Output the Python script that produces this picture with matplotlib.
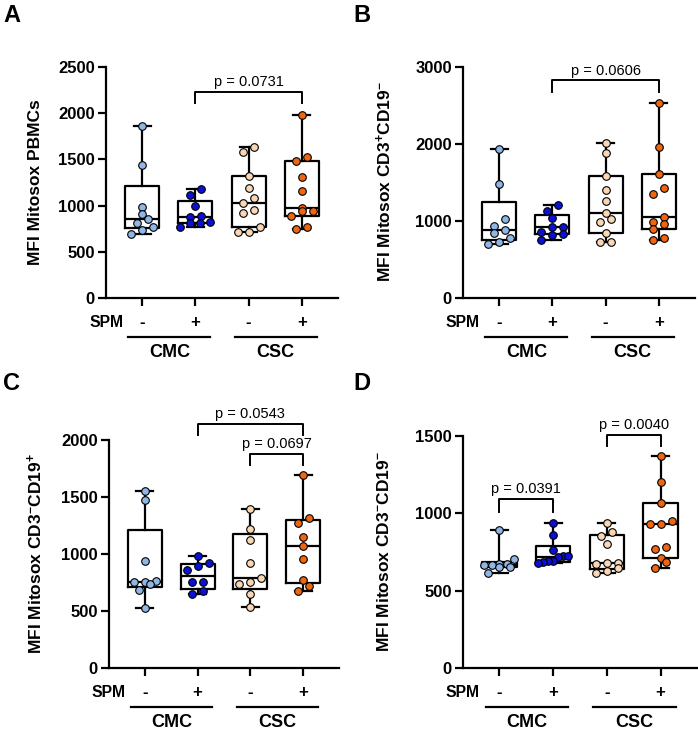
import numpy as np
import matplotlib
matplotlib.use("Agg")
import matplotlib.pyplot as plt
from matplotlib.transforms import blended_transform_factory, ScaledTranslation

plt.rcParams["font.family"] = ["Liberation Sans", "DejaVu Sans"]
plt.rcParams["mathtext.fontset"] = "custom"
plt.rcParams["mathtext.rm"] = "Liberation Sans:bold"
plt.rcParams["mathtext.bf"] = "Liberation Sans:bold"
plt.rcParams["mathtext.it"] = "Liberation Sans:bold"

# Данные
spm_labels = ["-", "+", "-", "+"]
groups = ["CMC", "CSC"]
colors = ["#8fb6e4", "#0a10d4", "#f9d6b4", "#f0650f"]

a_cmc_neg = [1860, 1439, 982, 906, 856, 809, 766, 740, 698]
a_cmc_pos = [1176, 1112, 993, 892, 881, 824, 809, 809, 763]
a_csc_neg = [1637, 1583, 1324, 1194, 1086, 1032, 950, 925, 763, 709, 709]
a_csc_pos = [1978, 1529, 1482, 1309, 1155, 975, 946, 946, 892, 773, 748]

b_cmc_neg = [1934, 1481, 1023, 937, 885, 842, 773, 729, 704]
b_cmc_pos = [1204, 1131, 1036, 928, 928, 855, 833, 820, 747]
b_csc_neg = [2016, 1878, 1584, 1403, 1265, 1109, 1023, 993, 850, 721, 721]
b_csc_pos = [2538, 1964, 1606, 1424, 1347, 1058, 993, 963, 898, 777, 747]

c_cmc_neg = [1550, 1477, 942, 760, 754, 754, 740, 681, 529]
c_cmc_pos = [980, 921, 895, 863, 754, 754, 675, 646]
c_csc_neg = [1392, 1222, 1126, 921, 792, 754, 734, 646, 535]
c_csc_pos = [1696, 1319, 1272, 1149, 1070, 956, 769, 716, 673]

d_cmc_neg = [894, 703, 672, 672, 665, 665, 650, 650, 615]
d_cmc_pos = [937, 858, 765, 722, 722, 716, 695, 690, 684, 677]
d_csc_neg = [937, 880, 851, 800, 680, 672, 677, 645, 628, 613]
d_csc_pos = [1368, 1202, 1064, 950, 929, 929, 780, 768, 710, 686, 647]

panels = [
    dict(letter="A", data=[a_cmc_neg, a_cmc_pos, a_csc_neg, a_csc_pos],
         ymax=2500, yticks=[0, 500, 1000, 1500, 2000, 2500],
         ylabel="MFI Mitosox PBMCs",
         brackets=[(2, 4, 2230, 2115, "p = 0.0731")],
         rect=(106, 67, 232, 231), lab=(36, 182), let=(12, 15)),
    dict(letter="B", data=[b_cmc_neg, b_cmc_pos, b_csc_neg, b_csc_pos],
         ymax=3000, yticks=[0, 1000, 2000, 3000],
         ylabel=r"MFI Mitosox CD3$^{+}$CD19$^{-}$",
         brackets=[(2, 4, 2827, 2676, "p = 0.0606")],
         rect=(463, 67, 232, 231), lab=(384, 182), let=(362, 15)),
    dict(letter="C", data=[c_cmc_neg, c_cmc_pos, c_csc_neg, c_csc_pos],
         ymax=2000, yticks=[0, 500, 1000, 1500, 2000],
         ylabel=r"MFI Mitosox CD3$^{-}$CD19$^{+}$",
         brackets=[(2, 4, 2143, 2047, "p = 0.0543"), (3, 4, 1880, 1778, "p = 0.0697")],
         rect=(109, 440, 230, 228), lab=(35, 554), let=(12, 383)),
    dict(letter="D", data=[d_cmc_neg, d_cmc_pos, d_csc_neg, d_csc_pos],
         ymax=1500, yticks=[0, 500, 1000, 1500],
         ylabel=r"MFI Mitosox CD3$^{-}$CD19$^{-}$",
         brackets=[(1, 2, 1095, 1008, "p = 0.0391"), (3, 4, 1507, 1438, "p = 0.0040")],
         rect=(463, 436, 234, 232), lab=(384, 552), let=(362, 383)),
]

W, H = 698, 733
fig = plt.figure(figsize=(W / 100, H / 100), dpi=100)
xlim = (0.32, 4.68)


def swarm(vals, ypx, xpx, diam=7.0, step=11.0, half=15.0):
    # точки с близкими значениями собираются в ряд и раздвигаются симметрично
    vals = np.asarray(vals, float)
    order = np.argsort(vals)
    offs = np.zeros(len(vals))
    rows = []
    for i in order:
        if rows and (vals[i] - vals[rows[-1][0]]) * ypx < diam:
            rows[-1].append(i)
        else:
            rows.append([i])
    for row in rows:
        n = len(row)
        st = step if n < 2 else min(step, 2 * half / (n - 1))
        for j, i in enumerate(row):
            offs[i] = (j - (n - 1) / 2) * st / xpx
    return offs


for p in panels:
    l, t, w, h = p["rect"]
    ax = fig.add_axes([l / W, 1 - (t + h) / H, w / W, h / H])
    ax.set_xlim(*xlim)
    ax.set_ylim(0, p["ymax"])
    ypx = h / p["ymax"]
    xpx = w / (xlim[1] - xlim[0])

    stats = []
    for vals in p["data"]:
        q1, med, q3 = np.percentile(vals, [25, 50, 75], method="weibull")
        stats.append(dict(med=med, q1=q1, q3=q3, whislo=min(vals), whishi=max(vals), fliers=[]))
    lw = 1.6
    ax.bxp(stats, positions=[1, 2, 3, 4], widths=0.64, capwidths=0.32, showfliers=False,
           boxprops=dict(lw=lw, color="k"), medianprops=dict(lw=lw, color="k"),
           whiskerprops=dict(lw=lw, color="k"), capprops=dict(lw=lw, color="k"),
           manage_ticks=False)

    for i, vals in enumerate(p["data"]):
        offs = swarm(vals, ypx, xpx)
        ax.scatter(i + 1 + offs, vals, s=30, color=colors[i], edgecolor="k",
                   linewidth=0.8, zorder=5, clip_on=False)

    for x1, x2, ytop, yleg, txt in p["brackets"]:
        ax.plot([x1, x1, x2, x2], [yleg, ytop, ytop, yleg], color="k", lw=1.4, clip_on=False)
        ax.annotate(txt, xy=((x1 + x2) / 2, ytop), xytext=(0, 2.0), textcoords="offset points",
                    ha="center", va="bottom", fontsize=10.5, annotation_clip=False)

    for s in ["top", "right"]:
        ax.spines[s].set_visible(False)
    for s in ["left", "bottom"]:
        ax.spines[s].set_linewidth(1.6)
    ax.set_yticks(p["yticks"])
    ax.tick_params(axis="y", length=6, width=1.6, labelsize=12, pad=2)
    for lab in ax.get_yticklabels():
        lab.set_fontweight("bold")
    ax.set_xticks([1, 2, 3, 4])
    ax.set_xticklabels([])
    ax.tick_params(axis="x", length=5.5, width=1.6)

    # подписи под осью X
    for x, s in zip([1, 2, 3, 4], spm_labels):
        ax.annotate(s, xy=(x, 0), xycoords=("data", "axes fraction"), xytext=(0, -17.5),
                    textcoords="offset points", ha="center", va="center",
                    fontsize=12, fontweight="bold", annotation_clip=False)
    ax.annotate("SPM", xy=(0, 0), xycoords="axes fraction", xytext=(0, -17.5),
                textcoords="offset points", ha="center", va="center",
                fontsize=11.3, fontweight="bold", annotation_clip=False)
    trans = blended_transform_factory(ax.transData, ax.transAxes) + \
        ScaledTranslation(0, -28 / 72, fig.dpi_scale_trans)
    for (x1, x2), g in zip([(0.74, 2.28), (2.74, 4.28)], groups):
        ax.plot([x1, x2], [0, 0], color="k", lw=1.6, transform=trans, clip_on=False)
        ax.annotate(g, xy=((x1 + x2) / 2, 0), xycoords=("data", "axes fraction"),
                    xytext=(0, -39.5), textcoords="offset points", ha="center", va="center",
                    fontsize=13, fontweight="bold", annotation_clip=False)

    fig.text(p["lab"][0] / W, 1 - p["lab"][1] / H, p["ylabel"], rotation=90,
             ha="center", va="center", fontsize=12.5, fontweight="bold")
    fig.text(p["let"][0] / W, 1 - p["let"][1] / H, p["letter"], ha="center", va="center",
             fontsize=17, fontweight="bold")

fig.savefig("out.png", dpi=100)
